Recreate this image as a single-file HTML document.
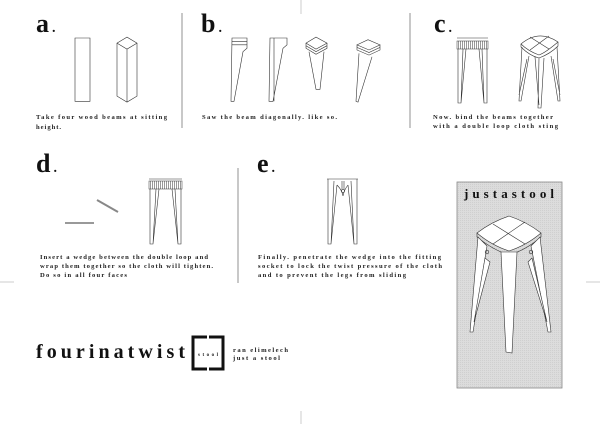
<!DOCTYPE html>
<html><head><meta charset="utf-8"><style>
html,body{margin:0;padding:0;background:#fff;width:600px;height:424px;overflow:hidden}
svg{display:block}
.t{font-family:"Liberation Serif",serif;font-weight:bold;font-size:6.6px;fill:#222}
.L{font-family:"Liberation Serif",serif;font-weight:bold;font-size:26px;fill:#111}
.s{fill:none;stroke:#333;stroke-width:0.6;vector-effect:non-scaling-stroke}
.w{fill:#fff;stroke:#333;stroke-width:0.6;vector-effect:non-scaling-stroke}
</style></head><body>
<svg width="600" height="424" viewBox="0 0 600 424" xmlns="http://www.w3.org/2000/svg">
<defs>
<pattern id="g" width="2" height="2" patternUnits="userSpaceOnUse"><rect width="2" height="2" fill="#dcdcdc"/><rect width="1" height="1" fill="#cfcfcf"/></pattern>
<pattern id="h" width="2" height="2" patternUnits="userSpaceOnUse"><rect width="2" height="2" fill="#fff"/><rect width="1" height="2" fill="#999"/></pattern>
</defs>
<line x1="301" y1="0" x2="301" y2="14" stroke="#ccc" stroke-width="1"/>
<line x1="301" y1="411" x2="301" y2="424" stroke="#ccc" stroke-width="1"/>
<line x1="0" y1="282" x2="14" y2="282" stroke="#ccc" stroke-width="1"/>
<line x1="586" y1="282" x2="600" y2="282" stroke="#ccc" stroke-width="1"/>
<line x1="182" y1="13" x2="182" y2="128" stroke="#777" stroke-width="0.8"/>
<line x1="410" y1="13" x2="410" y2="128" stroke="#777" stroke-width="0.8"/>
<line x1="238" y1="168" x2="238" y2="283" stroke="#777" stroke-width="0.8"/>

<text class="L" x="36" y="32">a<tspan font-size="14" dx="3">.</tspan></text>
<text class="L" x="201" y="32">b<tspan font-size="14" dx="3">.</tspan></text>
<text class="L" x="434" y="32">c<tspan font-size="14" dx="3">.</tspan></text>
<text class="L" x="36" y="172">d<tspan font-size="14" dx="3">.</tspan></text>
<text class="L" x="257" y="172">e<tspan font-size="14" dx="3">.</tspan></text>

<g transform="translate(0,38) scale(1,0.855) translate(0,-44)">
<rect class="s" x="75" y="44" width="15" height="74"/>
<path class="s" d="M117 50 L127 43 L137 50 L127 57 Z M117 50 V112 L127 119 L137 112 V50 M127 57 V119"/>
<path class="s" d="M232 44 H247 V56 L243 60 L234 118 L231 118 Z M232 48 H247 M232 52 H247"/>
<path class="s" d="M270 44 H287 V52 L283 56 L273 118 L269 118 Z M274 44 V118"/>
<path class="s" d="M306 50 L316 43 L327 50 L316 57 Z M306 50 V56 L316 63 L327 56 V50 M306 53 L316 60 L327 53 M309 60 L316 104 L320 104 L324 60"/>
<path class="s" d="M357 52 L368 46 L380 52 L369 58 Z M357 52 V58 L369 64 L380 58 V52 M357 55 L369 61 L380 55 M359 62 L356 118 L358 119 L372 66"/>
</g>

<rect x="457" y="41" width="31" height="8" fill="url(#h)" stroke="#333" stroke-width="0.5"/>
<path class="s" d="M457 38 H488 M458 49 L458 103 L461 103 L466 49 M461 103 L463 49 M487 49 L487 103 L484 103 L479 49 M484 103 L482 49"/>
<path class="w" d="M521 44 Q539 29 558 42 Q545 53 539 55 Q528 51 521 44 Z"/>
<path class="s" d="M530 37 L549 49 M549 36 L530 50 M521 44 V47 Q530 56 539 58 Q550 54 558 46 V42"/>
<path class="s" d="M522 47 L519 101 L521 101 L529 56 M539 58 L538 108 L541 108 L544 58 M557 47 L560 101 L558 101 L551 56 M527 59 L519 95 M553 59 L560 95 M535 57 L539 105"/>

<line x1="65" y1="223" x2="94" y2="223" stroke="#999" stroke-width="2"/>
<line x1="97" y1="200" x2="118" y2="212" stroke="#888" stroke-width="2"/>
<rect x="149" y="181" width="33" height="8" fill="url(#h)" stroke="#333" stroke-width="0.5"/>
<path class="s" d="M149 179 H182 M150 189 L150 244 L153 244 L159 189 M153 244 L156 189 M181 189 L181 244 L178 244 L172 189 M178 244 L175 189"/>

<path class="s" d="M327 179 H358 M328 179 L328 244 L331 244 L337 185 M331 244 L334 181 M357 179 L357 244 L354 244 L348 185 M354 244 L351 181 M337 185 Q342 190 343 196 Q344 190 348 185 M342 181 V190 M344 181 V190"/>
<circle cx="343" cy="191" r="1.5" class="s"/>

<text class="t" x="36" y="119" textLength="131" lengthAdjust="spacing">Take four wood beams at sitting</text>
<text class="t" x="36" y="129" textLength="25" lengthAdjust="spacing">height.</text>
<text class="t" x="202" y="119" textLength="135" lengthAdjust="spacing">Saw the beam diagonally. like so.</text>
<text class="t" x="433" y="119" textLength="120" lengthAdjust="spacing">Now. bind the beams together</text>
<text class="t" x="433" y="128" textLength="125" lengthAdjust="spacing">with a double loop cloth sting</text>
<text class="t" x="40" y="259" textLength="168" lengthAdjust="spacing">Insert a wedge between the double loop and</text>
<text class="t" x="40" y="268" textLength="173" lengthAdjust="spacing">wrap them together so the cloth will tighten.</text>
<text class="t" x="40" y="277" textLength="87" lengthAdjust="spacing">Do so in all four faces</text>
<text class="t" x="258" y="259" textLength="183" lengthAdjust="spacing">Finally. penetrate the wedge into the fitting</text>
<text class="t" x="258" y="268" textLength="184" lengthAdjust="spacing">socket to lock the twist pressure of the cloth</text>
<text class="t" x="258" y="277" textLength="148" lengthAdjust="spacing">and to prevent the legs from sliding</text>

<rect x="457" y="182" width="105" height="206" fill="url(#g)" stroke="#888" stroke-width="0.8"/>
<text x="464" y="198" font-family="Liberation Serif,serif" font-weight="bold" font-size="13" fill="#111" textLength="90" lengthAdjust="spacing">justastool</text>
<path class="w" d="M477 233 Q491 222 509 216 Q527 222 541 233 Q527 245 509 251 Q491 245 477 233 Z"/>
<path class="s" d="M493 224 L525 244 M525 222 L493 244 M477 233 V237 Q493 250 509 255 Q526 250 541 237 V233"/>
<path class="w" d="M478 237 L470 332 L473 332 L487 246 Z"/>
<path class="w" d="M540 237 L551 332 L548 332 L531 246 Z"/>
<path class="w" d="M501 252 L506 352 L512 353 L517 252 Z"/>
<path class="w" d="M485 258 L474 322 L490 262 Z"/>
<path class="w" d="M532 258 L547 322 L528 262 Z"/>
<circle cx="487" cy="252" r="1.8" class="s"/><circle cx="531" cy="252" r="1.8" class="s"/>

<text x="36" y="358" font-family="Liberation Serif,serif" font-weight="bold" font-size="20" fill="#111" textLength="149" lengthAdjust="spacing">fourinatwist</text>
<path d="M207 337 H193 V369 H207 M209 337 H223 V369 H209" fill="none" stroke="#111" stroke-width="3"/>
<text x="198" y="356" font-family="Liberation Serif,serif" font-weight="bold" font-size="5" fill="#222" textLength="20" lengthAdjust="spacing">stool</text>
<text class="t" x="233" y="352" font-size="6" textLength="55" lengthAdjust="spacing">ran elimelech</text>
<text class="t" x="233" y="360" font-size="6" textLength="47" lengthAdjust="spacing">just a stool</text>
</svg>
</body></html>
